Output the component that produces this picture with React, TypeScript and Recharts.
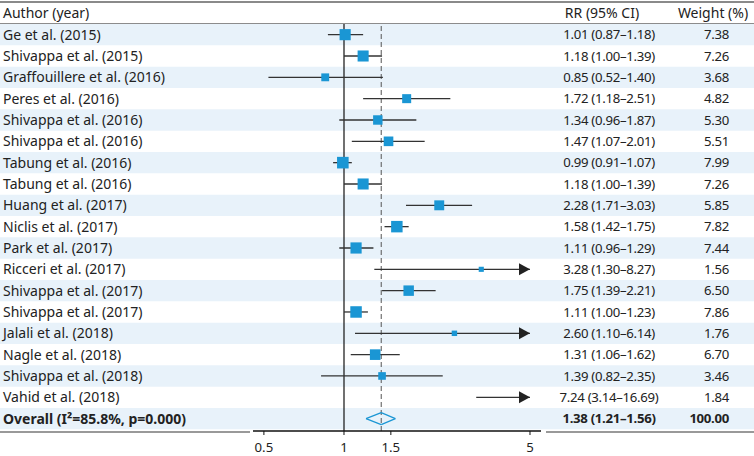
import React from 'react';
import { ComposedChart, Scatter, XAxis, YAxis, ReferenceLine, ReferenceArea, Customized } from 'recharts';

const AUTHORS = [
  'Ge et al. (2015)', 'Shivappa et al. (2015)', 'Graffouillere et al. (2016)', 'Peres et al. (2016)',
  'Shivappa et al. (2016)', 'Shivappa et al. (2016)', 'Tabung et al. (2016)', 'Tabung et al. (2016)',
  'Huang et al. (2017)', 'Niclis et al. (2017)', 'Park et al. (2017)', 'Ricceri et al. (2017)',
  'Shivappa et al. (2017)', 'Shivappa et al. (2017)', 'Jalali et al. (2018)', 'Nagle et al. (2018)',
  'Shivappa et al. (2018)', 'Vahid et al. (2018)',
];
const RR = [1.01, 1.18, 0.85, 1.72, 1.34, 1.47, 0.99, 1.18, 2.28, 1.58, 1.11, 3.28, 1.75, 1.11, 2.60, 1.31, 1.39, 7.24];
const LOWER = [0.87, 1.00, 0.52, 1.18, 0.96, 1.07, 0.91, 1.00, 1.71, 1.42, 0.96, 1.30, 1.39, 1.00, 1.10, 1.06, 0.82, 3.14];
const UPPER = [1.18, 1.39, 1.40, 2.51, 1.87, 2.01, 1.07, 1.39, 3.03, 1.75, 1.29, 8.27, 2.21, 1.23, 6.14, 1.62, 2.35, 16.69];
const WEIGHT = [7.38, 7.26, 3.68, 4.82, 5.30, 5.51, 7.99, 7.26, 5.85, 7.82, 7.44, 1.56, 6.50, 7.86, 1.76, 6.70, 3.46, 1.84];
const RR_LABELS = [
  '1.01 (0.87–1.18)', '1.18 (1.00–1.39)', '0.85 (0.52–1.40)', '1.72 (1.18–2.51)', '1.34 (0.96–1.87)',
  '1.47 (1.07–2.01)', '0.99 (0.91–1.07)', '1.18 (1.00–1.39)', '2.28 (1.71–3.03)', '1.58 (1.42–1.75)',
  '1.11 (0.96–1.29)', '3.28 (1.30–8.27)', '1.75 (1.39–2.21)', '1.11 (1.00–1.23)', '2.60 (1.10–6.14)',
  '1.31 (1.06–1.62)', '1.39 (0.82–2.35)', '7.24 (3.14–16.69)',
];
const WEIGHT_LABELS = ['7.38', '7.26', '3.68', '4.82', '5.30', '5.51', '7.99', '7.26', '5.85', '7.82', '7.44', '1.56', '6.50', '7.86', '1.76', '6.70', '3.46', '1.84'];

const OVERALL_LABEL = 'Overall (I²=85.8%, p=0.000)';
const OVERALL_RR = 1.38;
const OVERALL_LOWER = 1.21;
const OVERALL_UPPER = 1.56;
const OVERALL_RR_LABEL = '1.38 (1.21–1.56)';
const OVERALL_WEIGHT_LABEL = '100.00';

const HEADERS = ['Author (year)', 'RR (95% CI)', 'Weight (%)'];
const X_TICKS = [0.5, 1, 1.5, 5];
const X_DOMAIN = [0.455, 5.5];
const ARROW_CAP = 5;

const W = 754;
const H = 456;
const TOP = 24;
const BOTTOM_AXIS = 25;
const Y_MAX = 19.08;
const BLUE = '#1a96d4';
const STRIPE = '#e8f2fa';
const FONT = '"Noto Sans", sans-serif';
const FS_L = 14;
const FS_N = 13.2;

const rows = [
  ...AUTHORS.map((a, i) => ({ x: 1, y: i + 0.5, idx: i, author: a, rr: RR_LABELS[i], w: WEIGHT_LABELS[i], bold: false })),
  { x: 1, y: AUTHORS.length + 0.5, idx: AUTHORS.length, author: OVERALL_LABEL, rr: OVERALL_RR_LABEL, w: OVERALL_WEIGHT_LABEL, bold: true },
];

const squares = RR.map((v, i) => ({ x: v, y: i + 0.5, w: WEIGHT[i] })).filter((d) => d.x <= ARROW_CAP);
const arrows = UPPER.map((u, i) => ({ x: ARROW_CAP, y: i + 0.5, over: u > ARROW_CAP })).filter((d) => d.over);

const SquareShape = (p: any) => {
  const s = 4.1 * Math.sqrt(p.payload.w);
  return <rect x={p.cx - s / 2} y={p.cy - s / 2} width={s} height={s} fill={BLUE} />;
};

const ArrowShape = (p: any) => (
  <polygon points={`${p.cx},${p.cy} ${p.cx - 11},${p.cy - 6} ${p.cx - 11},${p.cy + 6}`} fill="#222" />
);

const TextShape = (p: any) => {
  const d = p.payload;
  const weight = d.bold ? 700 : 400;
  return (
    <g fontFamily={FONT} fill="#222" fontWeight={weight}>
      <text x={3} y={p.cy} dy="0.36em" textAnchor="start" fontSize={FS_L}>{d.author}</text>
      <text x={609} y={p.cy} dy="0.36em" textAnchor="middle" fontSize={FS_N} letterSpacing={-0.3}>{d.rr}</text>
      <text x={729} y={p.cy} dy="0.36em" textAnchor="end" fontSize={FS_N} letterSpacing={-0.3}>{d.w}</text>
    </g>
  );
};

const Frame = () => (
  <g>
    <line x1={0} x2={W} y1={2} y2={2} stroke="#8a8a8a" strokeWidth={2} />
    <line x1={0} x2={W} y1={TOP} y2={TOP} stroke="#666" strokeWidth={1.5} />
    <line x1={0} x2={250} y1={H - BOTTOM_AXIS + 1} y2={H - BOTTOM_AXIS + 1} stroke="#777" strokeWidth={1.5} />
    <line x1={546} x2={W} y1={H - BOTTOM_AXIS + 1} y2={H - BOTTOM_AXIS + 1} stroke="#777" strokeWidth={1.5} />
    <text x={3} y={13} dy="0.36em" fontFamily={FONT} fontSize={FS_L} fill="#222">{HEADERS[0]}</text>
    <text x={602} y={13} dy="0.36em" textAnchor="middle" fontFamily={FONT} fontSize={FS_L} fill="#222">{HEADERS[1]}</text>
    <text x={713} y={13} dy="0.36em" textAnchor="middle" fontFamily={FONT} fontSize={FS_L} fill="#222">{HEADERS[2]}</text>
  </g>
);

export default function App() {
  const oy = AUTHORS.length + 0.5;
  return (
    <div style={{ position: 'absolute', left: 0, top: 0, width: W, height: H, background: '#fff' }}>
      <ComposedChart width={W} height={H} margin={{ top: TOP, left: 253, right: W - 541, bottom: 0 }}>
        <XAxis
          type="number"
          dataKey="x"
          scale="log"
          domain={X_DOMAIN}
          ticks={X_TICKS}
          height={BOTTOM_AXIS}
          axisLine={{ stroke: '#111', strokeWidth: 1.3 }}
          tickLine={{ stroke: '#111' }}
          tickSize={4}
          tickMargin={8}
          tick={{ fontFamily: FONT, fontSize: FS_N, fill: '#222' }}
          tickFormatter={(v: number) => String(v)}
        />
        <YAxis type="number" dataKey="y" domain={[0, Y_MAX]} reversed hide />
        {rows.filter((r) => r.idx % 2 === 0).map((r) => (
          <ReferenceArea key={'s' + r.idx} x1={0.01} x2={100} y1={r.y - 0.5} y2={r.y + 0.5} fill={STRIPE} fillOpacity={1} stroke="none" ifOverflow="visible" />
        ))}
        <ReferenceLine x={1} stroke="#111" strokeWidth={1.2} ifOverflow="visible" />
        <ReferenceLine x={OVERALL_RR} stroke="#555" strokeDasharray="5 3" strokeWidth={1} ifOverflow="visible" />
        {RR.map((_, i) => (
          <ReferenceLine
            key={'ci' + i}
            segment={[{ x: LOWER[i], y: i + 0.5 }, { x: Math.min(UPPER[i], ARROW_CAP), y: i + 0.5 }]}
            stroke="#333"
            strokeWidth={1.3}
            ifOverflow="visible"
          />
        ))}
        <ReferenceLine segment={[{ x: OVERALL_LOWER, y: oy }, { x: OVERALL_RR, y: oy - 0.28 }]} stroke={BLUE} strokeWidth={1.2} ifOverflow="visible" />
        <ReferenceLine segment={[{ x: OVERALL_RR, y: oy - 0.28 }, { x: OVERALL_UPPER, y: oy }]} stroke={BLUE} strokeWidth={1.2} ifOverflow="visible" />
        <ReferenceLine segment={[{ x: OVERALL_UPPER, y: oy }, { x: OVERALL_RR, y: oy + 0.28 }]} stroke={BLUE} strokeWidth={1.2} ifOverflow="visible" />
        <ReferenceLine segment={[{ x: OVERALL_RR, y: oy + 0.28 }, { x: OVERALL_LOWER, y: oy }]} stroke={BLUE} strokeWidth={1.2} ifOverflow="visible" />
        <Scatter data={squares} shape={SquareShape} isAnimationActive={false} />
        <Scatter data={arrows} shape={ArrowShape} isAnimationActive={false} />
        <Scatter data={rows} shape={TextShape} isAnimationActive={false} />
        <Customized component={Frame} />
      </ComposedChart>
    </div>
  );
}
